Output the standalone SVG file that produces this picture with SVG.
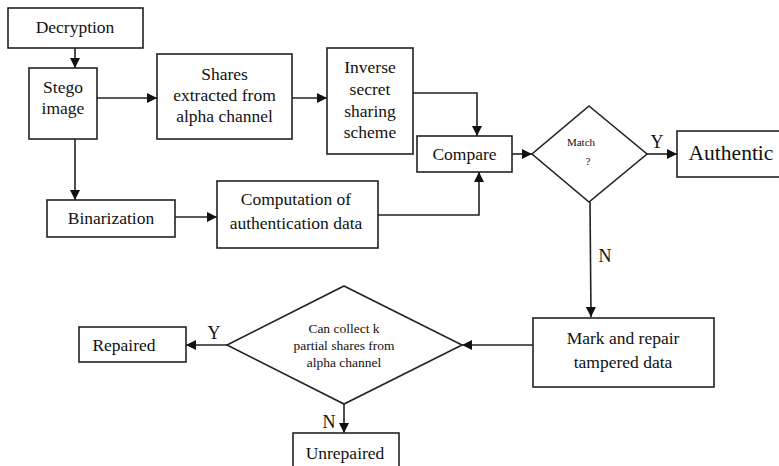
<svg xmlns="http://www.w3.org/2000/svg" width="779" height="466" viewBox="0 0 779 466">
<defs>
<marker id="ah" viewBox="0 0 10 10" refX="10" refY="5" markerWidth="10" markerHeight="10" markerUnits="userSpaceOnUse" orient="auto">
<path d="M0,0 L10,5 L0,10 Z" fill="#111"/>
</marker>
</defs>
<style>
.b{fill:#fff;stroke:#222;stroke-width:1.6}
.c{fill:none;stroke:#222;stroke-width:1.6;marker-end:url(#ah)}
text{fill:#111;text-anchor:middle;font-size:17.5px}
.s{font-size:11px}
.m{font-size:13.5px}
.big{font-size:21.5px}
.yn{font-size:18px}
</style>
<rect width="779" height="466" fill="#fff"/>
<g font-family="'Liberation Serif', 'Times New Roman', serif">
<g id="connectors">
<path class="c" d="M75,48 L75,68"/>
<path class="c" d="M97,98 L157,98"/>
<path class="c" d="M75,139 L75,200"/>
<path class="c" d="M175,217 L217,217"/>
<path class="c" d="M292,98 L327,98"/>
<path class="c" d="M413,93 L477,93 L477,136"/>
<path class="c" d="M378,215 L479,215 L479,172"/>
<path class="c" d="M512,154 L532,154"/>
<path class="c" d="M647,154 L677,154"/>
<path class="c" d="M590,202 L591,317"/>
<path class="c" d="M533,345 L462,345"/>
<path class="c" d="M227,345 L186,345"/>
<path class="c" d="M344,404 L344,433"/>
<text class="yn" x="657" y="148">Y</text>
<text class="yn" x="605" y="262">N</text>
<text class="yn" x="214" y="339">Y</text>
<text class="yn" x="329" y="428">N</text>
</g>
<g id="decryption"><rect class="b" x="8" y="8" width="135" height="40"/><text x="75" y="33">Decryption</text></g>
<g id="stego"><rect class="b" x="29" y="68" width="68" height="71"/><text x="63" y="93">Stego</text><text x="63" y="114">image</text></g>
<g id="shares"><rect class="b" x="157" y="54" width="135" height="85"/><text x="224.5" y="80">Shares</text><text x="224.5" y="101">extracted from</text><text x="224.5" y="122">alpha channel</text></g>
<g id="inverse"><rect class="b" x="327" y="48" width="86" height="106"/><text x="370" y="73">Inverse</text><text x="370" y="95">secret</text><text x="370" y="117">sharing</text><text x="370" y="138">scheme</text></g>
<g id="compare"><rect class="b" x="417" y="136" width="95" height="36"/><text x="464.5" y="160">Compare</text></g>
<g id="binarization"><rect class="b" x="47" y="200" width="128" height="37"/><text x="111" y="224">Binarization</text></g>
<g id="computation"><rect class="b" x="217" y="181" width="161" height="67"/><text x="296" y="205">Computation of</text><text x="296" y="229">authentication data</text></g>
<g id="match"><path class="b" d="M589,106 L647,154 L589,202 L532,154 Z"/><text class="s" x="581" y="146">Match</text><text class="s" x="588" y="165">?</text></g>
<g id="authentic"><rect class="b" x="677" y="131" width="115" height="46"/><text class="big" x="731" y="160">Authentic</text></g>
<g id="mark"><rect class="b" x="533" y="318" width="181" height="69"/><text x="623" y="344">Mark and repair</text><text x="623" y="368">tampered data</text></g>
<g id="collect"><path class="b" d="M344,286 L462,345 L344,404 L227,345 Z"/><text class="m" x="344" y="333">Can collect k</text><text class="m" x="344" y="350">partial shares from</text><text class="m" x="344" y="367">alpha channel</text></g>
<g id="repaired"><rect class="b" x="79" y="327" width="107" height="35"/><text x="124" y="351">Repaired</text></g>
<g id="unrepaired"><rect class="b" x="293" y="433" width="106" height="40"/><text x="345" y="459">Unrepaired</text></g>
</g>
</svg>
